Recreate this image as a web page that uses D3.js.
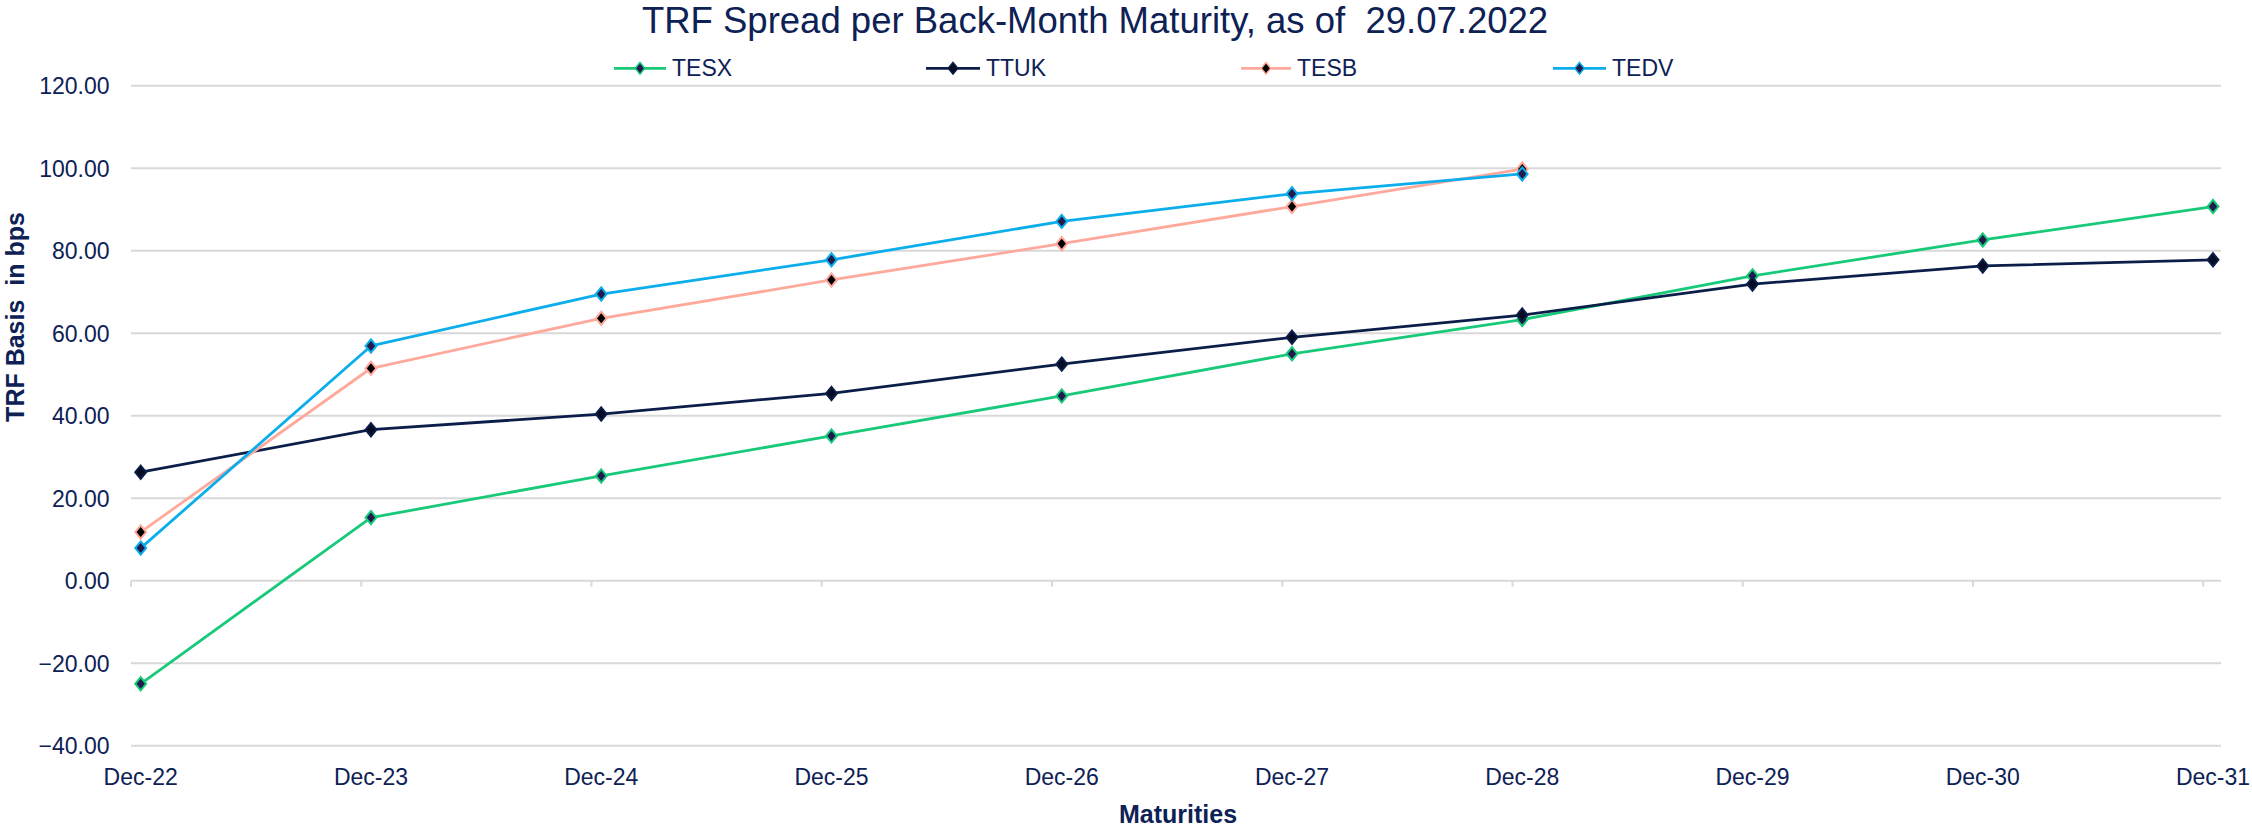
<!DOCTYPE html>
<html>
<head>
<meta charset="utf-8">
<script src="https://cdn.jsdelivr.net/npm/d3@7"></script>
<style>
  html, body { margin: 0; padding: 0; background: #fff; }
  svg { display: block; font-family: "Liberation Sans", Arial, sans-serif; }
</style>
</head>
<body>
<svg id="chart" width="2252" height="828"></svg>
<script>
const categories = ["Dec-22","Dec-23","Dec-24","Dec-25","Dec-26","Dec-27","Dec-28","Dec-29","Dec-30","Dec-31"];
const yTicks = [-40, -20, 0, 20, 40, 60, 80, 100, 120];
const seriesNames = ["TESX", "TTUK", "TESB", "TEDV"];
const tesx = [-25.0, 15.3, 25.4, 35.1, 44.8, 55.0, 63.3, 73.9, 82.6, 90.7];
const ttuk = [26.3, 36.6, 40.4, 45.4, 52.5, 59.0, 64.4, 71.9, 76.3, 77.8];
const tesb = [11.8, 51.5, 63.6, 72.9, 81.7, 90.7, 99.8, null, null, null];
const tedv = [7.9, 56.9, 69.5, 77.8, 87.1, 93.8, 98.6, null, null, null];

const titleText = "TRF Spread per Back-Month Maturity, as of  29.07.2022";
const yTitle = "TRF Basis  in bps";
const xTitle = "Maturities";

const navy = "#0D2155";
const styles = {
  TESX: { line: "#18C97A", fill: "#221C4E" },
  TTUK: { line: "#0B1E4A", fill: "#050B22" },
  TESB: { line: "#FFA99C", fill: "#000000" },
  TEDV: { line: "#0BAEEA", fill: "#221C4E" }
};
const seriesData = [tesx, ttuk, tesb, tedv];

const svg = d3.select("#chart");
const plot = { left: 131, right: 2221, top: 85.7, bottom: 745.7 };

const x = d3.scalePoint().domain(categories).range([140.7, 2213]);
const y = d3.scaleLinear().domain([-40, 120]).range([plot.bottom, plot.top]);
const tickOffset = -9.7;

// gridlines
svg.append("g").selectAll("line").data(yTicks).join("line")
  .attr("x1", plot.left).attr("x2", plot.right)
  .attr("y1", d => y(d)).attr("y2", d => y(d))
  .attr("stroke", "#D9D9D9").attr("stroke-width", 2);

// category tick marks on zero line
svg.append("g").selectAll("line").data(categories).join("line")
  .attr("x1", d => x(d) + tickOffset).attr("x2", d => x(d) + tickOffset)
  .attr("y1", y(0)).attr("y2", y(0) + 6)
  .attr("stroke", "#D9D9D9").attr("stroke-width", 2);

// y tick labels
svg.append("g").selectAll("text").data(yTicks).join("text")
  .attr("x", 109.5).attr("y", d => y(d) + 8.5)
  .attr("text-anchor", "end").attr("font-size", 23).attr("fill", navy)
  .text(d => d3.format(".2f")(d));

// x labels
svg.append("g").selectAll("text").data(categories).join("text")
  .attr("x", d => x(d)).attr("y", 785)
  .attr("text-anchor", "middle").attr("font-size", 23).attr("fill", navy)
  .text(d => d);

// title
svg.append("text").attr("x", 1095).attr("y", 33)
  .attr("text-anchor", "middle").attr("font-size", 36.5).attr("fill", navy)
  .style("white-space", "pre").text(titleText);

// axis titles
svg.append("text").attr("x", 1178).attr("y", 823)
  .attr("text-anchor", "middle").attr("font-size", 25).attr("font-weight", "bold").attr("fill", navy)
  .text(xTitle);
svg.append("text").attr("transform", "translate(24,317) rotate(-90)")
  .attr("text-anchor", "middle").attr("font-size", 25).attr("font-weight", "bold").attr("fill", navy)
  .style("white-space", "pre").text(yTitle);

const diamond = {
  draw(ctx, size) {
    const h = Math.sqrt(size), w = h * 0.82;
    ctx.moveTo(0, -h); ctx.lineTo(w, 0); ctx.lineTo(0, h); ctx.lineTo(-w, 0); ctx.closePath();
  }
};

const lineGen = d3.line()
  .defined(d => d.v !== null)
  .x(d => x(d.c)).y(d => y(d.v));

seriesNames.forEach((name, si) => {
  const pts = categories.map((c, i) => ({ c, v: seriesData[si][i] }));
  const st = styles[name];
  const g = svg.append("g");
  g.append("path").datum(pts).attr("d", lineGen)
    .attr("fill", "none").attr("stroke", st.line).attr("stroke-width", 2.8)
    .attr("stroke-linejoin", "round");
  g.selectAll("path.m").data(pts.filter(d => d.v !== null)).join("path")
    .attr("class", "m")
    .attr("transform", d => `translate(${x(d.c)},${y(d.v)})`)
    .attr("d", d3.symbol().type(diamond).size(44))
    .attr("fill", st.fill).attr("stroke", st.line).attr("stroke-width", 2);
});

// legend
const legendX = [614, 926, 1241, 1553];
const legendLineW = [52, 54, 50, 53];
const legendY = 68.3;
seriesNames.forEach((name, i) => {
  const st = styles[name];
  const g = svg.append("g");
  const x0 = legendX[i], w = legendLineW[i];
  g.append("line").attr("x1", x0).attr("x2", x0 + w).attr("y1", legendY).attr("y2", legendY)
    .attr("stroke", st.line).attr("stroke-width", 2.8);
  g.append("path").attr("transform", `translate(${x0 + w / 2},${legendY})`)
    .attr("d", d3.symbol().type(diamond).size(34))
    .attr("fill", st.fill).attr("stroke", st.line).attr("stroke-width", 1.5);
  g.append("text").attr("x", x0 + w + 6).attr("y", legendY + 8)
    .attr("font-size", 23).attr("fill", navy).text(name);
});
</script>
</body>
</html>
